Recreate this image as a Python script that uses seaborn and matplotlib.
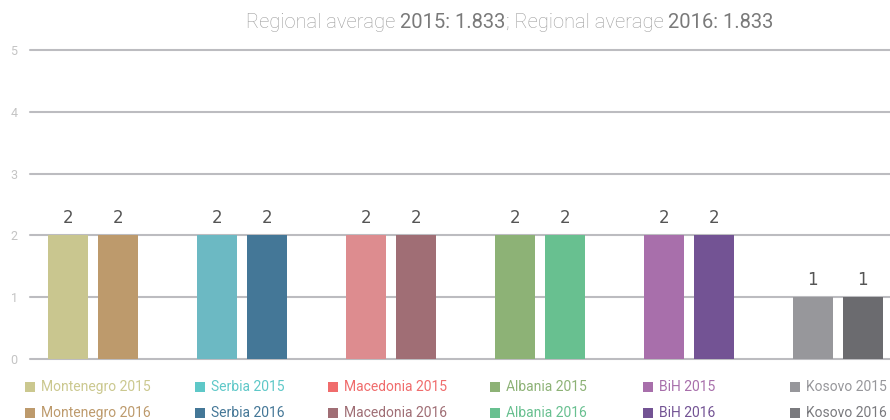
import numpy as np
import pandas as pd
import matplotlib
matplotlib.use("Agg")
import matplotlib.pyplot as plt
import seaborn as sns

# ── Data ──────────────────────────────────────────────────────────────────────
countries = ["Montenegro", "Serbia", "Macedonia", "Albania", "BiH", "Kosovo"]
values_2015 = [2, 2, 2, 2, 2, 1]
values_2016 = [2, 2, 2, 2, 2, 1]
avg_2015 = 1.833
avg_2016 = 1.833
y_ticks = [0, 1, 2, 3, 4, 5]

bar_colors_2015 = ["#c9c68f", "#6cb9c3", "#dd8c8f", "#8db276", "#a86fab", "#97979b"]
bar_colors_2016 = ["#bd9a6c", "#447797", "#a06e75", "#68c090", "#735394", "#6b6b6f"]
legend_colors_2015 = ["#cbc88f", "#5ec8c8", "#f06c6c", "#8db276", "#a86fab", "#97979b"]
legend_colors_2016 = ["#bd9a6c", "#447797", "#a06e75", "#68c090", "#735394", "#7a7a7e"]

df = pd.DataFrame({
    "country": countries * 2,
    "year": ["2015"] * len(countries) + ["2016"] * len(countries),
    "value": values_2015 + values_2016,
})

sns.set_theme(style="white")
plt.rcParams["font.family"] = ["Roboto", "DejaVu Sans"]

fig = plt.figure(figsize=(8.9, 4.2), dpi=100)
ax = fig.add_axes([30 / 890, 61 / 420, 860 / 890, 309 / 420])

sns.barplot(data=df, x="country", y="value", hue="year", order=countries,
            hue_order=["2015", "2016"], width=0.67, gap=0.2,
            palette=["#999999", "#666666"], legend=False, ax=ax, zorder=3)

# recolour each bar individually
for container, cols in zip(ax.containers, [bar_colors_2015, bar_colors_2016]):
    for patch, c in zip(container, cols):
        patch.set_facecolor(c)
        patch.set_edgecolor("none")
    ax.bar_label(container, fmt="%d", padding=6, fontsize=12,
                 color="#555555", family="DejaVu Sans")

ax.set_xlim(-0.423, 5.35)
ax.set_ylim(0, 5)
ax.set_yticks(y_ticks)
ax.set_yticklabels([str(t) for t in y_ticks])
ax.tick_params(axis="y", length=0, pad=9, labelsize=9, labelcolor="#c4c4c4")
ax.set_xticks([])
ax.set_xlabel("")
ax.set_ylabel("")
for s in ax.spines.values():
    s.set_visible(False)
for t in y_ticks:
    ax.axhline(t, color="#bcbcc0", linewidth=1.5, zorder=1, clip_on=False)

# ── Title with mixed emphasis ─────────────────────────────────────────────────
parts = [
    ("Regional average ", "#9c9c9c", "light"),
    (f"2015: {avg_2015:.3f}", "#7a7a7a", "normal"),
    ("; Regional average ", "#9c9c9c", "light"),
    (f"2016: {avg_2016:.3f}", "#7a7a7a", "normal"),
]
fig.canvas.draw()
renderer = fig.canvas.get_renderer()
texts = []
widths = []
for txt, col, wt in parts:
    t = fig.text(0, 1 - 22 / 420, txt, color=col, fontsize=14.5, va="center",
                 ha="left", fontweight=wt)
    texts.append(t)
    widths.append(t.get_window_extent(renderer).width / fig.bbox.width)
x = 510 / 890 - sum(widths) / 2
for t, w in zip(texts, widths):
    t.set_x(x)
    x += w

# ── Legend (two rows, six columns) ────────────────────────────────────────────
col_x = [25, 195, 328, 490, 643, 790]
row_y = [387, 413]
for i, c in enumerate(countries):
    for j, (year, lc) in enumerate([("2015", legend_colors_2015[i]),
                                    ("2016", legend_colors_2016[i])]):
        xp = col_x[i] / 890
        yp = 1 - row_y[j] / 420
        fig.patches.append(plt.Rectangle((xp, yp - 5 / 420), 10 / 890, 10 / 420,
                                         transform=fig.transFigure,
                                         facecolor=lc, edgecolor="none"))
        fig.text(xp + 16 / 890, yp, f"{c} {year}", color=lc, fontsize=10,
                 va="center", ha="left")

fig.savefig("out.png", dpi=100)
